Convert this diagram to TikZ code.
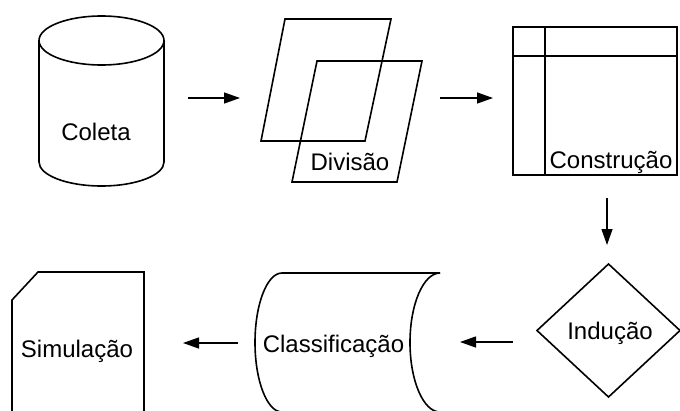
\documentclass[tikz,border=0pt]{standalone}
\usepackage{fontspec}
\setmainfont{Liberation Sans}
\usetikzlibrary{arrows.meta}
\begin{document}
\begin{tikzpicture}[x=1pt,y=-1pt,
  shapeline/.style={draw=black,line width=1.6pt,line join=miter},
  flow/.style={draw=black,line width=1.3pt,-{Triangle[length=16pt,width=11pt]}},
  label/.style={anchor=base,inner sep=0pt,font=\fontsize{24}{28}\selectfont}]
\useasboundingbox (0,0) rectangle (680,410);
\clip (0,0) rectangle (680,410);

% Coleta: cylinder (y runs downwards, so the lower rim is swept 180 -> 0)
\draw[shapeline] (39,40.5) -- (39,162) arc[start angle=180,end angle=0,x radius=62.5,y radius=24] -- (164,40.5);
\draw[shapeline] (101.5,40.5) ellipse[x radius=62.5,y radius=24.5];
\node[label] (coleta) at (96,140) {Coleta};

% Divisao: two overlapping parallelograms
\draw[shapeline] (285,19) -- (391,19) -- (365,141) -- (261,141) -- cycle;
\draw[shapeline] (317,61) -- (422,61) -- (397,182) -- (292,182) -- cycle;
\node[label] (divisao) at (350,170) {Divisão};

% Construcao: internal storage box
\draw[shapeline] (513,27) rectangle (677,175);
\draw[shapeline] (545,27) -- (545,175);
\draw[shapeline] (513,56) -- (677,56);
\node[label] (construcao) at (611,168) {Construção};

% Inducao: decision diamond
\draw[shapeline] (608.5,264) -- (680,330.5) -- (608.5,397) -- (537,330.5) -- cycle;
\node[label] (inducao) at (610,339) {Indução};

% Classificacao: stored data
\draw[shapeline] (440,273) -- (282,273) arc[start angle=270,end angle=90,x radius=27,y radius=69.5] -- (440,412);
\draw[shapeline] (440,273) arc[start angle=270,end angle=90,x radius=30,y radius=69.5];
\node[label] (classificacao) at (333.5,352.5) {Classificação};

% Simulacao: card
\draw[shapeline] (12,420) -- (12,300) -- (38,272) -- (144,272) -- (144,420);
\node[label] (simulacao) at (77,357) {Simulação};

% flow connectors
\coordinate (a1s) at (188,98);  \coordinate (a1e) at (240,98);
\coordinate (a2s) at (440,98);  \coordinate (a2e) at (493,98);
\coordinate (a3s) at (607,198); \coordinate (a3e) at (607,245);
\coordinate (a4s) at (513,342); \coordinate (a4e) at (460,342);
\coordinate (a5s) at (238,343); \coordinate (a5e) at (183,343);
\draw[flow] (a1s) -- (a1e);
\draw[flow] (a2s) -- (a2e);
\draw[flow] (a3s) -- (a3e);
\draw[flow] (a4s) -- (a4e);
\draw[flow] (a5s) -- (a5e);
\end{tikzpicture}
\end{document}
